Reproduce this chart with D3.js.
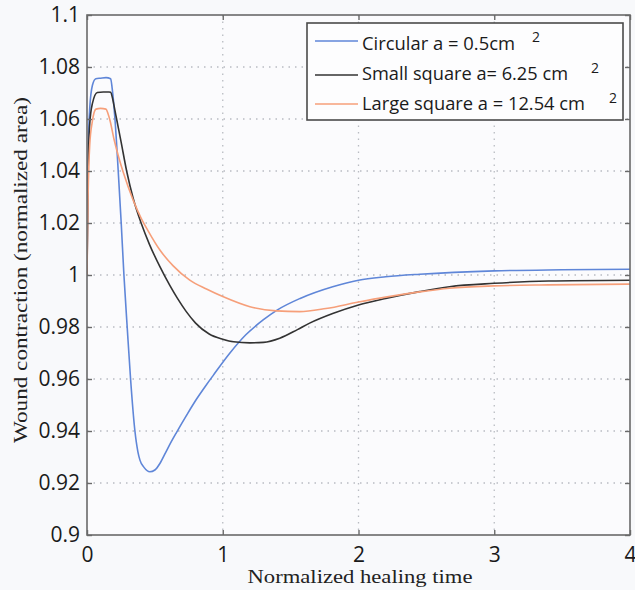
<!DOCTYPE html>
<html>
<head>
<meta charset="utf-8">
<script src="https://cdn.jsdelivr.net/npm/d3@7/dist/d3.min.js"></script>
<style>
  html, body { margin: 0; padding: 0; background: #f8f9fb; }
  svg { display: block; }
</style>
</head>
<body>
<svg id="chart" width="635" height="590"></svg>
<script>
// Wound contraction curves (normalized area vs normalized healing time)
const seriesNames = ["Circular a = 0.5cm", "Small square a= 6.25 cm", "Large square a = 12.54 cm"];
const seriesColors = ["#5f86d8", "#333333", "#f69f7a"];

const timeCircular = [0, 0.008, 0.02, 0.04, 0.065, 0.1, 0.14, 0.174, 0.185, 0.195, 0.206, 0.23, 0.252, 0.272, 0.296, 0.321, 0.353, 0.375, 0.39, 0.42, 0.463, 0.5, 0.537, 0.58, 0.62, 0.66, 0.733, 0.806, 0.88, 0.93, 1.05, 1.17, 1.3, 1.4, 1.57, 1.81, 2.0, 2.2, 2.45, 3.0, 3.5, 4.0];
const areaCircular = [1.0, 1.045, 1.064, 1.073, 1.0755, 1.0757, 1.0759, 1.0755, 1.072, 1.067, 1.06, 1.04, 1.02, 1.0, 0.98, 0.96, 0.94, 0.932, 0.9288, 0.926, 0.9243, 0.925, 0.9275, 0.9318, 0.9358, 0.9395, 0.946, 0.9522, 0.9578, 0.9614, 0.9698, 0.977, 0.9828, 0.9865, 0.991, 0.9955, 0.998, 0.9993, 1.0003, 1.0016, 1.002, 1.0022];

const timeSmall = [0, 0.008, 0.02, 0.04, 0.076, 0.12, 0.162, 0.174, 0.19, 0.205, 0.218, 0.25, 0.292, 0.34, 0.402, 0.46, 0.537, 0.61, 0.67, 0.73, 0.8, 0.9, 1.0, 1.08, 1.2, 1.3, 1.42, 1.55, 1.64, 1.81, 2.0, 2.2, 2.45, 2.67, 3.0, 3.4, 4.0];
const areaSmall = [1.0, 1.04, 1.058, 1.066, 1.0702, 1.0704, 1.0704, 1.0703, 1.0675, 1.0635, 1.06, 1.0515, 1.04, 1.0295, 1.0195, 1.0118, 1.0032, 0.996, 0.9907, 0.986, 0.9815, 0.9773, 0.9753, 0.9743, 0.9739, 0.9741, 0.9757, 0.979, 0.9815, 0.9852, 0.9885, 0.991, 0.9936, 0.9955, 0.9968, 0.9977, 0.998];

const timeLarge = [0, 0.008, 0.02, 0.039, 0.066, 0.1, 0.14, 0.155, 0.169, 0.2, 0.235, 0.267, 0.34, 0.402, 0.45, 0.537, 0.635, 0.757, 0.88, 1.0, 1.2, 1.395, 1.566, 1.76, 2.0, 2.2, 2.45, 2.67, 3.0, 3.4, 4.0];
const areaLarge = [1.0, 1.03, 1.05, 1.059, 1.0638, 1.0641, 1.0638, 1.062, 1.0595, 1.052, 1.045, 1.0395, 1.0288, 1.0215, 1.017, 1.0096, 1.0035, 0.998, 0.9946, 0.9917, 0.9878, 0.9862, 0.9859, 0.9871, 0.9896, 0.9915, 0.9935, 0.9949, 0.9958, 0.9962, 0.9965];

const xTicks = [0, 1, 2, 3, 4];
const yTicks = [0.9, 0.92, 0.94, 0.96, 0.98, 1, 1.02, 1.04, 1.06, 1.08, 1.1];
const yTickLabels = ["0.9", "0.92", "0.94", "0.96", "0.98", "1", "1.02", "1.04", "1.06", "1.08", "1.1"];
const xLabel = "Normalized healing time";
const yLabel = "Wound contraction (normalized area)";

const series = [
  { name: seriesNames[0], color: seriesColors[0], pts: timeCircular.map((t, i) => [t, areaCircular[i]]) },
  { name: seriesNames[1], color: seriesColors[1], pts: timeSmall.map((t, i) => [t, areaSmall[i]]) },
  { name: seriesNames[2], color: seriesColors[2], pts: timeLarge.map((t, i) => [t, areaLarge[i]]) }
];

const plot = { left: 87, top: 15, right: 630, bottom: 535 };
const svg = d3.select("#chart");

const x = d3.scaleLinear().domain([0, 4]).range([plot.left, plot.right]);
const y = d3.scaleLinear().domain([0.9, 1.1]).range([plot.bottom, plot.top]);

// plot background
svg.append("rect").attr("x", plot.left).attr("y", plot.top)
  .attr("width", plot.right - plot.left).attr("height", plot.bottom - plot.top)
  .attr("fill", "#fbfbfd");

// dotted grid
const gridColor = "#b9bcc2";
svg.append("g").selectAll("line").data(xTicks.slice(1, -1)).join("line")
  .attr("x1", d => x(d)).attr("x2", d => x(d))
  .attr("y1", plot.top).attr("y2", plot.bottom)
  .attr("stroke", gridColor).attr("stroke-width", 1.3).attr("stroke-dasharray", "1.5,5");
svg.append("g").selectAll("line").data(yTicks.slice(1, -1)).join("line")
  .attr("y1", d => y(d)).attr("y2", d => y(d))
  .attr("x1", plot.left).attr("x2", plot.right)
  .attr("stroke", gridColor).attr("stroke-width", 1.3).attr("stroke-dasharray", "1.5,5");

// curves
const line = d3.line().x(d => x(d[0])).y(d => y(d[1])).curve(d3.curveMonotoneX);
svg.append("clipPath").attr("id", "plotclip").append("rect")
  .attr("x", plot.left).attr("y", plot.top)
  .attr("width", plot.right - plot.left).attr("height", plot.bottom - plot.top);
svg.append("g").attr("clip-path", "url(#plotclip)")
  .selectAll("path").data(series).join("path")
  .attr("d", d => line(d.pts))
  .attr("fill", "none").attr("stroke", d => d.color).attr("stroke-width", 1.6)
  .attr("stroke-linejoin", "round");

// axes with inward ticks on all four sides
const axisColor = "#6a6a6a";
const tickFont = "'Open Sans', 'Noto Sans', sans-serif";
const styleAxis = g => {
  g.select(".domain").remove();
  g.selectAll(".tick line").attr("stroke", axisColor).attr("stroke-width", 1.4);
  g.selectAll(".tick text").attr("fill", "#1a1a1a").style("font-family", tickFont).style("font-size", "21px");
};
svg.append("g").attr("transform", `translate(0,${plot.bottom})`)
  .call(d3.axisBottom(x).tickValues(xTicks).tickFormat(d3.format("d")).tickSizeInner(-5).tickPadding(12))
  .call(styleAxis);
svg.append("g").attr("transform", `translate(0,${plot.top})`)
  .call(d3.axisTop(x).tickValues(xTicks).tickFormat("").tickSizeInner(-5))
  .call(styleAxis);
svg.append("g").attr("transform", `translate(${plot.left},0)`)
  .call(d3.axisLeft(y).tickValues(yTicks).tickFormat((d, i) => yTickLabels[i]).tickSizeInner(-5).tickPadding(7))
  .call(styleAxis);
svg.append("g").attr("transform", `translate(${plot.right},0)`)
  .call(d3.axisRight(y).tickValues(yTicks).tickFormat("").tickSizeInner(-5))
  .call(styleAxis);

svg.append("rect").attr("x", plot.left).attr("y", plot.top)
  .attr("width", plot.right - plot.left).attr("height", plot.bottom - plot.top)
  .attr("fill", "none").attr("stroke", axisColor).attr("stroke-width", 1.6);

// axis titles
const titleFont = "'Liberation Serif', 'DejaVu Serif', serif";
svg.append("text").attr("x", 360).attr("y", 583).attr("text-anchor", "middle")
  .attr("textLength", 225).attr("lengthAdjust", "spacingAndGlyphs")
  .style("font-family", titleFont).style("font-size", "19px").attr("fill", "#222")
  .text(xLabel);
svg.append("text").attr("transform", "translate(27,270) rotate(-90)").attr("text-anchor", "middle")
  .attr("textLength", 346).attr("lengthAdjust", "spacingAndGlyphs")
  .style("font-family", titleFont).style("font-size", "19px").attr("fill", "#222")
  .text(yLabel);

// legend
const legend = svg.append("g");
legend.append("rect").attr("x", 307).attr("y", 23).attr("width", 316).attr("height", 97)
  .attr("fill", "#fdfdfe").attr("stroke", "#4a4a4a").attr("stroke-width", 1.6);
const legendRows = [
  { lineY: 41, base: 50, width: 153, supX: 536, supY: 42 },
  { lineY: 75, base: 80, width: 206, supX: 595, supY: 73 },
  { lineY: 104, base: 110, width: 223, supX: 613, supY: 103 }
];
series.forEach((s, i) => {
  const r = legendRows[i];
  legend.append("line").attr("x1", 315).attr("x2", 358).attr("y1", r.lineY).attr("y2", r.lineY)
    .attr("stroke", s.color).attr("stroke-width", 1.5);
  legend.append("text").attr("x", 362).attr("y", r.base)
    .attr("textLength", r.width).attr("lengthAdjust", "spacingAndGlyphs")
    .style("font-family", tickFont).style("font-size", "18px").attr("fill", "#1a1a1a")
    .text(s.name);
  legend.append("text").attr("x", r.supX).attr("y", r.supY).attr("text-anchor", "middle")
    .style("font-family", tickFont).style("font-size", "14px").attr("fill", "#1a1a1a")
    .text("2");
});
</script>
</body>
</html>
